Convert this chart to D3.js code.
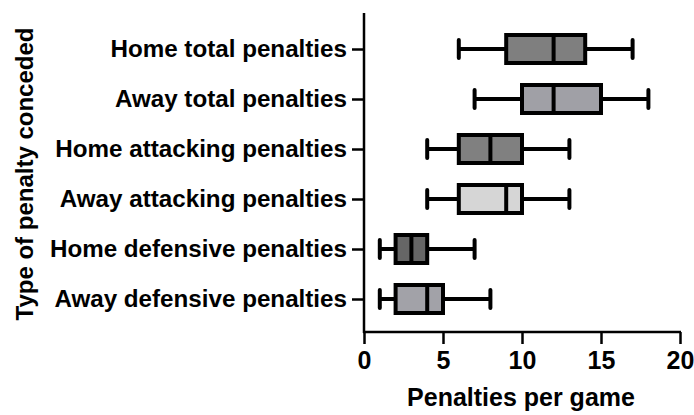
<!DOCTYPE html>
<html><head><meta charset="utf-8">
<script src="https://cdn.jsdelivr.net/npm/d3@7"></script>
<style>body{margin:0;background:#fff}svg{display:block}text{font-family:"Liberation Sans",Arial,sans-serif;font-weight:bold;fill:#000}</style>
</head><body>
<svg id="c" width="694" height="415"></svg>
<script>
const categories = ["Home total penalties","Away total penalties","Home attacking penalties","Away attacking penalties","Home defensive penalties","Away defensive penalties"];
const whiskerMin = [6, 7, 4, 4, 1, 1];
const q1 = [9, 10, 6, 6, 2, 2];
const median = [12, 12, 8, 9, 3, 4];
const q3 = [14, 15, 10, 10, 4, 5];
const whiskerMax = [17, 18, 13, 13, 7, 8];
const fills = ["#7f7f7f","#a0a0a6","#808080","#d6d6d6","#666666","#a2a2a8"];
const xTicks = [0, 5, 10, 15, 20];

const svg = d3.select("#c");
const x = d3.scaleLinear().domain([0, 20]).range([364, 680]);
const y = d3.scalePoint().domain(categories).range([49, 299]);
const FF = "Liberation Sans, Arial, sans-serif";

// y axis
const yAx = svg.append("g").attr("transform","translate(364,0)")
  .call(d3.axisLeft(y).tickSize(12).tickPadding(5));
yAx.select(".domain").remove();
yAx.append("line").attr("x1",0).attr("x2",0).attr("y1",13).attr("y2",333).attr("stroke","#000").attr("stroke-width",2.5);
yAx.selectAll(".tick line").attr("stroke","#000").attr("stroke-width",2.5);
yAx.selectAll(".tick text").style("font-size","24.2px").style("font-weight","bold").style("font-family",FF).attr("fill","#000");

// x axis
const xAx = svg.append("g").attr("transform","translate(0,332)")
  .call(d3.axisBottom(x).tickValues(xTicks).tickSize(12).tickPadding(7));
xAx.select(".domain").remove();
xAx.append("line").attr("x1",363).attr("x2",681).attr("y1",0).attr("y2",0).attr("stroke","#000").attr("stroke-width",2.5);
xAx.selectAll(".tick line").attr("stroke","#000").attr("stroke-width",2.5);
xAx.selectAll(".tick text").style("font-size","25px").style("font-weight","bold").style("font-family",FF).attr("fill","#000");

// axis titles
svg.append("text").attr("x", 521).attr("y", 406).attr("text-anchor","middle").style("font-size","25px").text("Penalties per game");
svg.append("text").attr("transform","translate(33,174) rotate(-90)").attr("text-anchor","middle").style("font-size","24px").text("Type of penalty conceded");

// boxes
const boxH = 28, capH = 18;
const g = svg.append("g");
categories.forEach((c, i) => {
  const cy = y(c);
  const gg = g.append("g");
  gg.append("line").attr("x1", x(whiskerMin[i])).attr("x2", x(q1[i])).attr("y1", cy).attr("y2", cy).attr("stroke","#000").attr("stroke-width",4);
  gg.append("line").attr("x1", x(q3[i])).attr("x2", x(whiskerMax[i])).attr("y1", cy).attr("y2", cy).attr("stroke","#000").attr("stroke-width",4);
  [whiskerMin[i], whiskerMax[i]].forEach(v => {
    gg.append("line").attr("x1", x(v)).attr("x2", x(v)).attr("y1", cy - capH/2).attr("y2", cy + capH/2).attr("stroke","#000").attr("stroke-width",4).attr("stroke-linecap","round");
  });
  gg.append("rect").attr("x", x(q1[i])).attr("y", cy - boxH/2).attr("width", x(q3[i]) - x(q1[i])).attr("height", boxH)
    .attr("fill", fills[i]).attr("stroke","#000").attr("stroke-width",4);
  gg.append("line").attr("x1", x(median[i])).attr("x2", x(median[i])).attr("y1", cy - boxH/2).attr("y2", cy + boxH/2).attr("stroke","#000").attr("stroke-width",4);
});
</script>
</body></html>
